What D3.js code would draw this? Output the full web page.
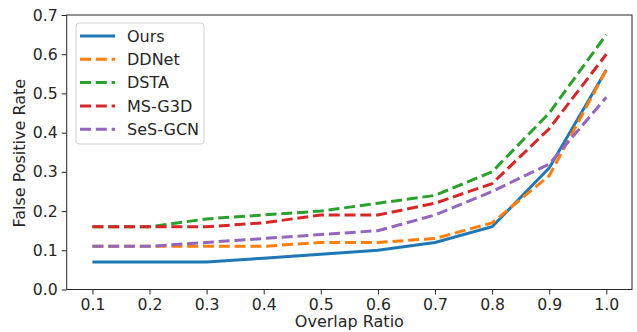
<!DOCTYPE html>
<html><head><meta charset="utf-8">
<script src="https://cdn.jsdelivr.net/npm/d3@7"></script>
<style>body{margin:0;background:#fff}svg{display:block}</style>
</head><body>
<svg id="chart" width="637" height="332"></svg>
<script>
const xValues = [0.1,0.2,0.3,0.4,0.5,0.6,0.7,0.8,0.9,1.0];
const seriesNames = ["Ours","DDNet","DSTA","MS-G3D","SeS-GCN"];
const ours   = [0.07,0.07,0.07,0.08,0.09,0.10,0.12,0.16,0.31,0.56];
const ddnet  = [0.11,0.11,0.11,0.11,0.12,0.12,0.13,0.17,0.29,0.56];
const dsta   = [0.16,0.16,0.18,0.19,0.20,0.22,0.24,0.30,0.45,0.65];
const msg3d  = [0.16,0.16,0.16,0.17,0.19,0.19,0.22,0.27,0.41,0.60];
const sesgcn = [0.11,0.11,0.12,0.13,0.14,0.15,0.19,0.25,0.32,0.49];
const xTicks = [0.1,0.2,0.3,0.4,0.5,0.6,0.7,0.8,0.9,1.0];
const yTicks = [0.0,0.1,0.2,0.3,0.4,0.5,0.6,0.7];

const seriesValues = [ours, ddnet, dsta, msg3d, sesgcn];
const colors = ["#1f77b4","#ff7f0e","#2ca02c","#d62728","#9467bd"];
const dashed = [false,true,true,true,true];

const svg = d3.select("#chart");
const L = 66.7, R = 632, T = 15, B = 289.5;
const x = d3.scaleLinear().domain([0.055,1.045]).range([L,R]);
const y = d3.scaleLinear().domain([0,0.7]).range([B,T]);
const font = "DejaVu Sans, sans-serif";

// axes
const xa = svg.append("g").attr("transform",`translate(0,${B})`)
  .call(d3.axisBottom(x).tickValues(xTicks).tickFormat(d3.format(".1f")).tickSizeOuter(0).tickSize(5).tickPadding(4));
const ya = svg.append("g").attr("transform",`translate(${L},0)`)
  .call(d3.axisLeft(y).tickValues(yTicks).tickFormat(d3.format(".1f")).tickSizeOuter(0).tickSize(5).tickPadding(4));
[xa,ya].forEach(g=>{
  g.selectAll("text").style("font-family",font).style("font-size","15.7px").attr("fill","#262626");
  g.selectAll("line").attr("stroke","#262626").attr("stroke-width",1);
  g.select(".domain").remove();
});

// spines
svg.append("rect").attr("x",L).attr("y",T).attr("width",R-L).attr("height",B-T)
  .attr("fill","none").attr("stroke","#262626").attr("stroke-width",1);

// lines
const line = d3.line().x((d,i)=>x(xValues[i])).y(d=>y(d));
seriesValues.forEach((vals,k)=>{
  svg.append("path").datum(vals).attr("d",line)
    .attr("fill","none").attr("stroke",colors[k]).attr("stroke-width",3)
    .attr("stroke-dasharray",dashed[k]?"11,4.8":null);
});

// axis labels
svg.append("text").attr("x",(L+R)/2).attr("y",327).attr("text-anchor","middle")
  .style("font-family",font).style("font-size","16px").attr("fill","#262626").text("Overlap Ratio");
svg.append("text").attr("transform",`translate(25,${(T+B)/2+1}) rotate(-90)`).attr("text-anchor","middle")
  .style("font-family",font).style("font-size","16px").attr("fill","#262626").text("False Positive Rate");

// legend
const lg = svg.append("g");
lg.append("rect").attr("x",76).attr("y",23).attr("width",128).attr("height",121).attr("rx",3)
  .attr("fill","#fff").attr("fill-opacity",0.8).attr("stroke","#d0d0d0").attr("stroke-width",1);
seriesNames.forEach((n,k)=>{
  const yy = 36 + k*23.3;
  lg.append("line").attr("x1",80).attr("x2",115).attr("y1",yy).attr("y2",yy)
    .attr("stroke",colors[k]).attr("stroke-width",3).attr("stroke-dasharray",dashed[k]?"11,4.8":null);
  lg.append("text").attr("x",127).attr("y",yy).attr("dy","0.35em")
    .style("font-family",font).style("font-size","16px").attr("fill","#262626").text(n);
});
</script>
</body></html>
